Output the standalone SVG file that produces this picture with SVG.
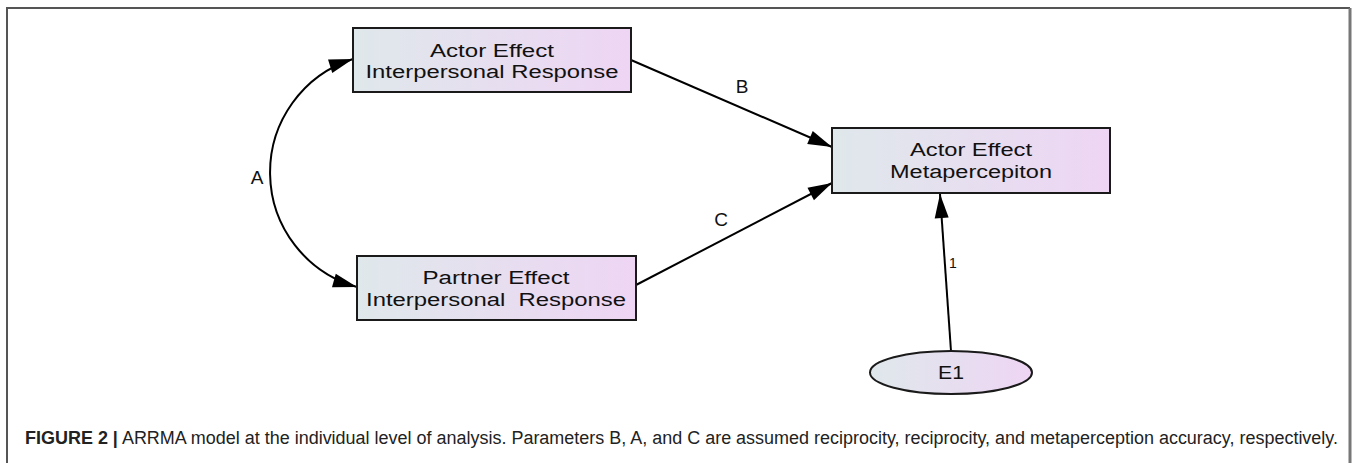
<svg xmlns="http://www.w3.org/2000/svg" width="1358" height="463" viewBox="0 0 1358 463">
  <defs>
    <linearGradient id="nodeFill" x1="0" y1="0" x2="1" y2="0">
      <stop offset="0" stop-color="#dfe8eb"/>
      <stop offset="1" stop-color="#eed5f4"/>
    </linearGradient>
    <marker id="arrow" markerUnits="userSpaceOnUse" markerWidth="24" markerHeight="14" refX="24" refY="7" orient="auto-start-reverse" overflow="visible">
      <path d="M0,0 L24,7 L0,14 z" fill="#000"/>
    </marker>
    <style>
      .box { fill: url(#nodeFill); stroke: #1a1a1a; stroke-width: 2; }
      .lbl { font-family: "Liberation Sans", Arial, sans-serif; font-size: 18px; fill: #111; text-anchor: middle; }
      .par { font-family: "Liberation Sans", Arial, sans-serif; font-size: 19px; fill: #111; text-anchor: middle; }
      .edge { fill: none; stroke: #000; stroke-width: 2; }
      .cap { font-family: "Liberation Sans", Arial, sans-serif; font-size: 18px; fill: #222; }
    </style>
  </defs>

  <rect width="1358" height="463" fill="#fff"/>

  <!-- figure frame (open at the bottom) -->
  <path d="M7,470 V8 H1350" fill="none" stroke="#555" stroke-width="2"/>
  <path d="M1350,8 V470" fill="none" stroke="#777" stroke-width="3"/>

  <!-- paths and covariance -->
  <g id="connectors">
    <path class="edge" d="M353,59 A119,119 0 0 0 357,287" marker-start="url(#arrow)" marker-end="url(#arrow)"/>
    <path class="edge" d="M631,60 L832,147" marker-end="url(#arrow)"/>
    <path class="edge" d="M636,285 L832,183" marker-end="url(#arrow)"/>
    <path class="edge" d="M951,351 L940,194" marker-end="url(#arrow)"/>
    <text class="par" x="257" y="184">A</text>
    <text class="par" x="742" y="93">B</text>
    <text class="par" x="721" y="226">C</text>
    <text class="par" x="953" y="268" style="font-size:14px">1</text>
  </g>

  <g id="actor-response">
    <rect class="box" x="353" y="28" width="278" height="64"/>
    <text class="lbl" x="492" y="57" textLength="124" lengthAdjust="spacingAndGlyphs">Actor Effect</text>
    <text class="lbl" x="492" y="78" textLength="253" lengthAdjust="spacingAndGlyphs">Interpersonal Response</text>
  </g>

  <g id="partner-response">
    <rect class="box" x="357" y="256" width="279" height="64"/>
    <text class="lbl" x="496" y="284" textLength="147" lengthAdjust="spacingAndGlyphs">Partner Effect</text>
    <text class="lbl" x="496" y="306" textLength="260" lengthAdjust="spacingAndGlyphs">Interpersonal&#160; Response</text>
  </g>

  <g id="actor-metaperception">
    <rect class="box" x="832" y="128" width="278" height="65"/>
    <text class="lbl" x="971" y="156" textLength="122" lengthAdjust="spacingAndGlyphs">Actor Effect</text>
    <text class="lbl" x="971" y="178" textLength="162" lengthAdjust="spacingAndGlyphs">Metapercepiton</text>
  </g>

  <g id="e1">
    <ellipse class="box" cx="951" cy="372.5" rx="81" ry="21.5"/>
    <text class="lbl" x="951" y="379" textLength="26" lengthAdjust="spacingAndGlyphs">E1</text>
  </g>

  <text class="cap" x="25" y="444" textLength="1313" lengthAdjust="spacingAndGlyphs"><tspan font-weight="bold">FIGURE 2 |</tspan> ARRMA model at the individual level of analysis. Parameters B, A, and C are assumed reciprocity, reciprocity, and metaperception accuracy, respectively.</text>
</svg>
